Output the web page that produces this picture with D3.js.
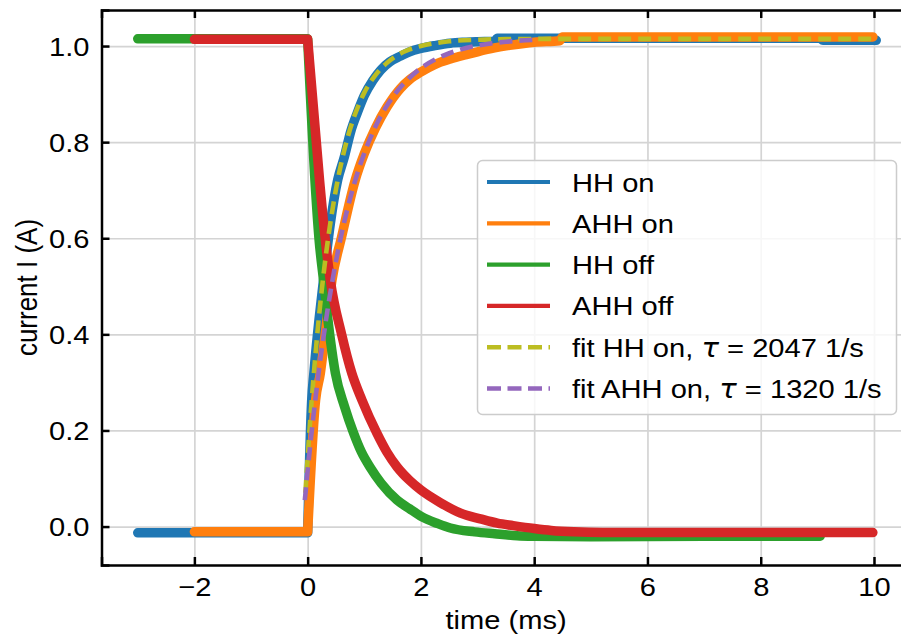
<!DOCTYPE html>
<html>
<head>
<meta charset="utf-8">
<script src="https://cdn.jsdelivr.net/npm/d3@7"></script>
<style>
  html, body { margin: 0; padding: 0; background: #ffffff; }
  svg { display: block; }
  text { font-family: "Liberation Sans", Arial, sans-serif; fill: #000; }
</style>
</head>
<body>
<svg id="chart" width="901" height="637"></svg>
<script>
// ---- measured currents (time in ms, current in A) ----
const hhOnT   = [-3, 0, 0.07, 0.11, 0.2, 0.28, 0.4, 0.53, 0.65, 0.76, 0.88, 1.0, 1.15, 1.29, 1.45, 1.64, 1.8, 2.0, 2.25, 2.52, 2.8, 3.0, 3.3, 3.35, 5.0, 7.0, 9.05, 9.1, 10.04];
const hhOnI   = [-0.013, -0.013, 0.26, 0.32, 0.43, 0.513, 0.63, 0.721, 0.77, 0.822, 0.862, 0.897, 0.928, 0.95, 0.967, 0.979, 0.988, 0.995, 1.001, 1.006, 1.008, 1.009, 1.01, 1.016, 1.016, 1.016, 1.016, 1.012, 1.012];

const ahhOnT  = [-2, 0, 0.14, 0.224, 0.3, 0.43, 0.6, 0.84, 1.0, 1.2, 1.4, 1.64, 1.8, 2.0, 2.25, 2.52, 2.8, 3.0, 3.3, 3.6, 4.0, 4.45, 4.5, 6.0, 8.0, 9.98];
const ahhOnI  = [-0.011, -0.011, 0.263, 0.319, 0.39, 0.513, 0.603, 0.721, 0.776, 0.83, 0.873, 0.912, 0.93, 0.946, 0.962, 0.973, 0.982, 0.988, 0.996, 1.002, 1.008, 1.011, 1.019, 1.019, 1.019, 1.019];

const hhOffT  = [-3, 0, 0.14, 0.2, 0.28, 0.4, 0.49, 0.65, 0.81, 0.95, 1.1, 1.3, 1.58, 1.8, 2.02, 2.3, 2.52, 2.95, 3.3, 3.7, 4.0, 5.0, 7.0, 9.05];
const hhOffI  = [1.015, 1.015, 0.70, 0.6, 0.513, 0.39, 0.319, 0.25, 0.195, 0.155, 0.124, 0.09, 0.055, 0.037, 0.02, 0.006, -0.003, -0.011, -0.015, -0.019, -0.02, -0.021, -0.02, -0.02];

const ahhOffT = [-2, 0, 0.21, 0.3, 0.4, 0.6, 0.78, 0.96, 1.22, 1.4, 1.58, 1.8, 2.0, 2.34, 2.7, 3.05, 3.35, 3.63, 4.0, 4.3, 4.7, 5.2, 6.0, 8.0, 9.98];
const ahhOffI = [1.014, 1.014, 0.721, 0.61, 0.513, 0.4, 0.319, 0.263, 0.195, 0.155, 0.124, 0.096, 0.076, 0.05, 0.028, 0.016, 0.007, 0.002, -0.004, -0.008, -0.011, -0.0125, -0.0125, -0.0125, -0.0125];

// ---- exponential fits of the switch-on transients ----
const fitHHT   = [-0.04, 0, 0.05, 0.1, 0.15, 0.2, 0.3, 0.4, 0.5, 0.6, 0.7, 0.8, 0.9, 1.0, 1.2, 1.4, 1.6, 1.8, 2.0, 2.5, 3.0, 3.5, 4.0, 5.0, 10.0];
const fitHHI   = [0.070, 0.144, 0.229, 0.305, 0.374, 0.437, 0.544, 0.631, 0.702, 0.760, 0.807, 0.846, 0.877, 0.903, 0.940, 0.965, 0.982, 0.993, 1.000, 1.0098, 1.0131, 1.0143, 1.0148, 1.015, 1.015];
const fitAHHT  = [-0.05, 0, 0.05, 0.1, 0.15, 0.2, 0.3, 0.4, 0.5, 0.6, 0.7, 0.8, 0.9, 1.0, 1.2, 1.4, 1.6, 1.8, 2.0, 2.25, 2.5, 3.0, 3.5, 4.05];
const fitAHHI  = [0.055, 0.116, 0.174, 0.228, 0.278, 0.326, 0.411, 0.486, 0.552, 0.610, 0.660, 0.704, 0.743, 0.777, 0.833, 0.876, 0.909, 0.934, 0.954, 0.972, 0.985, 1.001, 1.009, 1.013];

const tauHH = 2047, tauAHH = 1320;

// ---- axis ticks ----
const xTicks = [-2, 0, 2, 4, 6, 8, 10];
const yTicks = [0.0, 0.2, 0.4, 0.6, 0.8, 1.0];

const series = [
  { label: "HH on",   t: hhOnT,   v: hhOnI,   color: "#1f77b4", dashed: false },
  { label: "AHH on",  t: ahhOnT,  v: ahhOnI,  color: "#ff7f0e", dashed: false },
  { label: "HH off",  t: hhOffT,  v: hhOffI,  color: "#2ca02c", dashed: false },
  { label: "AHH off", t: ahhOffT, v: ahhOffI, color: "#d62728", dashed: false },
  { label: "fit HH on, ",  tau: tauHH,  t: fitHHT,  v: fitHHI,  color: "#bcbd22", dashed: true },
  { label: "fit AHH on, ", tau: tauAHH, t: fitAHHT, v: fitAHHI, color: "#9467bd", dashed: true }
];

// ---- layout ----
const L = 101.5, R = 910.8, T = 10, B = 565;
const FS = 26, SX = 1.12;   // font size and horizontal glyph stretch
const svg = d3.select("#chart");
svg.append("rect").attr("width", 901).attr("height", 637).attr("fill", "#fff");

const x = d3.scaleLinear().domain([-3.64, 10.65]).range([L, R]);
const y = d3.scaleLinear().domain([-0.08, 1.075]).range([B, T]);

// grid
const grid = svg.append("g").attr("class", "grid");
grid.append("g").attr("transform", `translate(0,${B})`)
  .call(d3.axisBottom(x).tickValues(xTicks).tickSize(-(B - T)).tickFormat(""));
grid.append("g").attr("transform", `translate(${L},0)`)
  .call(d3.axisLeft(y).tickValues(yTicks).tickSize(-(R - L)).tickFormat(""));
grid.selectAll(".domain").remove();
grid.selectAll("line").attr("stroke", "#d4d4d4").attr("stroke-width", 1.7);

// data lines: the flat pre-switch part is straight, the transient is smoothed
const linear = d3.line().x(d => x(d[0])).y(d => y(d[1]));
const smooth = d3.line().x(d => x(d[0])).y(d => y(d[1])).curve(d3.curveMonotoneX);
const plot = svg.append("g");
series.forEach(s => {
  const pts = s.t.map((t, i) => [t, s.v[i]]);
  const k = pts.findIndex(p => p[0] >= 0);
  const pre = k > 0 ? pts.slice(0, k + 1) : [];
  const post = pts.slice(Math.max(k, 0));
  const d = (pre.length ? linear(pre) : "") + (pre.length ? smooth(post).replace(/^M/, "L") : smooth(post));
  plot.append("path")
    .attr("d", d)
    .attr("fill", "none")
    .attr("stroke", s.color)
    .attr("stroke-width", s.dashed ? 4.6 : 9.5)
    .attr("stroke-linejoin", "round")
    .attr("stroke-linecap", s.dashed ? "butt" : "round")
    .attr("stroke-dasharray", s.dashed ? "13,7" : null);
});

// axes: inward ticks on all sides
const fmtX = d => d < 0 ? "\u2212" + Math.abs(d) : String(d);
const axB = svg.append("g").attr("transform", `translate(0,${B})`)
  .call(d3.axisBottom(x).tickValues(xTicks).tickSize(-8).tickFormat(fmtX));
const axL = svg.append("g").attr("transform", `translate(${L},0)`)
  .call(d3.axisLeft(y).tickValues(yTicks).tickSize(-8).tickFormat(d3.format(".1f")));
const axT = svg.append("g").attr("transform", `translate(0,${T})`)
  .call(d3.axisTop(x).tickValues(xTicks).tickSize(-8).tickFormat(""));
const axR = svg.append("g").attr("transform", `translate(${R},0)`)
  .call(d3.axisRight(y).tickValues(yTicks).tickSize(-8).tickFormat(""));
[axB, axL, axT, axR].forEach(a => {
  a.selectAll(".domain").attr("stroke", "#000").attr("stroke-width", 2.5);
  a.selectAll(".tick line").attr("stroke", "#000").attr("stroke-width", 2.5);
});
axB.selectAll(".tick text")
  .attr("y", 0).attr("dy", null)
  .attr("transform", `translate(0,31) scale(${SX},1)`)
  .attr("font-size", FS).attr("fill", "#000");
axL.selectAll(".tick text")
  .attr("x", 0).attr("dy", null)
  .attr("transform", `translate(-12,9) scale(${SX},1)`)
  .attr("font-size", FS).attr("fill", "#000");
svg.selectAll(".tick text").style("font-family", '"Liberation Sans", Arial, sans-serif');

// axis titles
svg.append("text")
  .attr("transform", `translate(${(L + R) / 2},629) scale(${SX},1)`)
  .attr("text-anchor", "middle").attr("font-size", FS)
  .text("time (ms)");
svg.append("text")
  .attr("transform", `translate(37,${(T + B) / 2}) scale(${SX},1) rotate(-90)`)
  .attr("text-anchor", "middle").attr("font-size", FS)
  .text("current I (A)");

// legend
const lg = svg.append("g");
lg.append("rect")
  .attr("x", 477.5).attr("y", 160.5).attr("width", 419).attr("height", 254)
  .attr("rx", 5).attr("fill", "#fff").attr("fill-opacity", 0.8)
  .attr("stroke", "#cccccc").attr("stroke-width", 1.5);
const rowY = d3.scalePoint().domain(series.map(s => s.label)).range([182, 388.5]);
series.forEach(s => {
  const yy = rowY(s.label);
  lg.append("line")
    .attr("x1", 487).attr("x2", 550).attr("y1", yy).attr("y2", yy)
    .attr("stroke", s.color).attr("stroke-width", s.dashed ? 4.4 : 4.2)
    .attr("stroke-dasharray", s.dashed ? "14,6.5" : null);
  const tx = lg.append("text")
    .attr("transform", `translate(572,${yy + 9.5}) scale(${SX},1)`)
    .attr("font-size", FS);
  tx.append("tspan").text(s.label);
  if (s.tau) {
    tx.append("tspan").attr("font-style", "italic")
      .style("font-family", '"DejaVu Sans", sans-serif').text("\u03C4");
    tx.append("tspan").text(" = " + s.tau + " 1/s");
  }
});
</script>
</body>
</html>
